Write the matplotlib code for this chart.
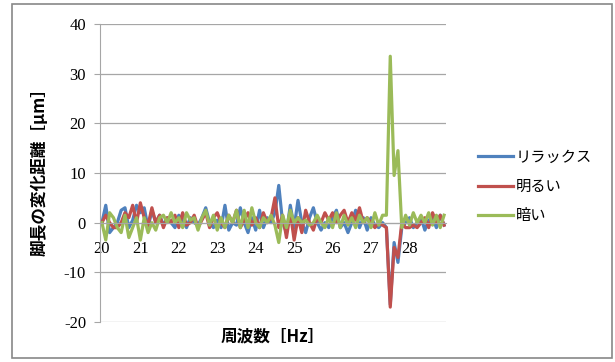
import numpy as np
import matplotlib.pyplot as plt
from matplotlib.patches import Rectangle

plt.rcParams['font.family'] = ['Noto Sans CJK JP', 'DejaVu Sans']

# frequency steps 20.0 .. 28.9 Hz
freq = np.round(np.arange(200, 290) / 10, 1)

relax = [0, 3.5, -2, -1, 0, 2.5, 3, -1, 0.5, 3.5,
         2, 3, -1, 2.5, 0, 1.5, -0.5, 1, 0, -1,
         1.5, 0.5, -1, 1, 0, -0.5, 1, 3, 0, -1,
         0.5, -1, 3.5, -1.5, 0, -0.5, 3, 0, -2, 1,
         -1.5, 2.5, -1, 1, 0, 2, 7.5, 0, -2, 3.5,
         -1, 4.5, 0, -2, 1, 3, 0, -1.5, 0, -1,
         1, 2.5, -1, 0, -2, 0, 2.5, -1, 1, -1.5,
         1, -0.5, -1, 0, -1, -16.5, -4, -8, -1, 0,
         1, -1, 0, 1, -1.5, 0.5, 1, -1, 1.5, -0.5]
bright = [0, 1.5, 0, -1, -1, 0, 2, 1, 3.5, 0,
          4, 1, -0.5, 3, 0, 1.5, -1, 1, 0, 1.5,
          -1, 2, -0.5, 0, 1.5, -1, 0.5, 2, -1, 1,
          2, 0, -1, 1.5, 0, 2.5, -1, 0.5, 2, -0.5,
          1, -1, 2, 0, 1, 5, -1, 1.5, -3, 2,
          -3.5, 1, -2, 2.5, 0, -1.5, 1, 0, 2, 0.5,
          2, 0, 1.5, 2.5, 0, 2, 0.5, 3, 0, 1,
          0, -1, 0, -0.5, -1, -17, -5, -7, 0, -1,
          -1, -0.5, -1, 0, 1, -1, 2, 0, 1.5, -0.5]
dark = [0, -3.5, 2, 1, -1, -2, 1.5, -3, -1, 1,
        -3.5, 1, -2, 0, -1.5, 1, 1.5, 0, 2, 0,
        1, -1, 2, 0.5, 1, -1.5, 1, 2.5, -0.5, 1.5,
        -1.5, 1, -1, 1.5, 0, 2.5, -1, 2.5, -1, 3,
        0, -1, 1, 0, 1.5, -0.5, -4, 1.5, -1, 2.5,
        0, 1, 0, 0.5, -0.5, 0, 1.5, 0, -1, 1,
        -1, 2, -1, 1.5, -0.5, 1, -1, 1.5, 0, 1,
        -1, 2, -0.5, 1.5, 1.5, 33.5, 9.5, 14.5, -1, 1.5,
        -0.5, 2, 0, 1.5, 0, 2, -0.5, 1.5, -1, 1.5]

names = ['リラックス', '明るい', '暗い']
colors = ['#4F81BD', '#C0504D', '#9BBB59']
xticks = list(range(20, 29))
yticks = [-20, -10, 0, 10, 20, 30, 40]

fig = plt.figure(figsize=(6.15, 3.62), dpi=100)
fig.patches.append(Rectangle((12 / 615, 4 / 362), 600 / 615, 354 / 362,
                             transform=fig.transFigure, fill=False,
                             edgecolor='#888888', linewidth=1.2))
ax = fig.add_axes([100 / 615, 1 - 322 / 362, 346 / 615, 298 / 362])

for vals, name, c in zip([relax, bright, dark], names, colors):
    ax.plot(freq, vals, color=c, linewidth=2.3, label=name)

ax.set_xlim(19.95, 28.95)
ax.set_ylim(-20, 40)
ax.set_yticks(yticks)
ax.grid(axis='y', color='#A6A6A6', linewidth=0.9)
ax.set_axisbelow(True)

ax.spines['top'].set_visible(False)
ax.spines['right'].set_visible(False)
ax.spines['left'].set_color('#A6A6A6')
ax.spines['bottom'].set_color('#A6A6A6')
ax.spines['bottom'].set_position(('data', 0))

num_font = {'family': ['Liberation Serif', 'DejaVu Serif'], 'size': 12}
ax.set_xticks(xticks)
ax.set_xticklabels([str(t) for t in xticks], fontdict=num_font)
ax.set_yticklabels([str(t) for t in yticks], fontdict=num_font)
ax.tick_params(axis='x', length=0, pad=13)
ax.tick_params(axis='y', length=4, color='#A6A6A6', pad=6)

fig.text(273 / 615, 1 - 336 / 362, '周波数［Hz］', ha='center', va='center',
         fontsize=12, fontweight='bold')
fig.text(40 / 615, 1 - 168 / 362, '脚長の変化距離［μm］', ha='center', va='center',
         rotation=90, fontsize=12, fontweight='bold')

fig.legend(loc='upper left', bbox_to_anchor=(464 / 615, 1 - 135 / 362),
           frameon=False, fontsize=11, handlelength=2.3, handletextpad=0.2,
           labelspacing=0.8)

fig.savefig('out.png', dpi=100)
